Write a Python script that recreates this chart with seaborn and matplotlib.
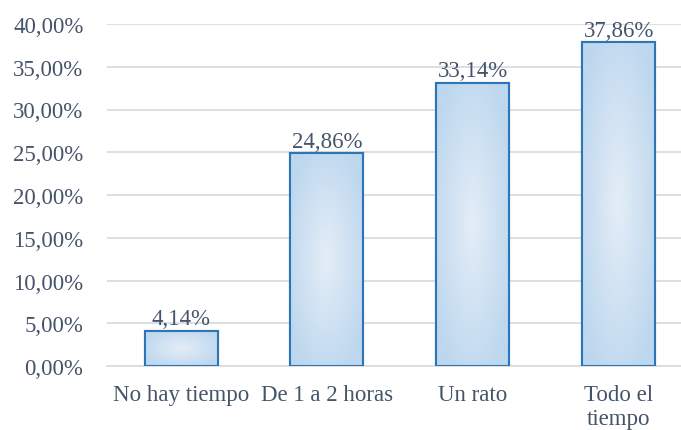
import numpy as np
import pandas as pd
import matplotlib
matplotlib.use("Agg")
import matplotlib.pyplot as plt
import seaborn as sns
from matplotlib.colors import LinearSegmentedColormap

categories = ["No hay tiempo", "De 1 a 2 horas", "Un rato", "Todo el\ntiempo"]
values = [4.14, 24.86, 33.14, 37.86]
yticks = [0, 5, 10, 15, 20, 25, 30, 35, 40]

sns.set_theme(style="white")
plt.rcParams["font.family"] = ["Liberation Serif", "DejaVu Serif"]

text_color = "#44546a"
grid_color = "#d9dde3"
edge_color = "#2e75b6"
fs = 16.5

df = pd.DataFrame({"cat": categories, "val": values})

fig = plt.figure(figsize=(6.81, 4.31), dpi=100)
ax = fig.add_axes([107 / 681, (431 - 367) / 431, 1 - 107 / 681, (367 - 25) / 431])

sns.barplot(data=df, x="cat", y="val", ax=ax, width=0.5, color="#bdd7ee",
            edgecolor=edge_color, linewidth=1.5, zorder=3)

# radial gradient fill inside each bar
cmap = LinearSegmentedColormap.from_list("bar", ["#e4edf7", "#bdd7ee"])
gy, gx = np.mgrid[-1:1:200j, -1:1:200j]
grad = np.clip(np.sqrt(gx ** 2 + gy ** 2) / 1.2, 0, 1)
for p in ax.patches:
    x0, y0 = p.get_x(), p.get_y()
    w, h = p.get_width(), p.get_height()
    im = ax.imshow(grad, cmap=cmap, extent=[x0, x0 + w, y0, y0 + h],
                   aspect="auto", zorder=3.5, interpolation="bilinear")
    im.set_clip_path(p)
    frame = plt.Rectangle((x0, y0), w, h, fill=False, edgecolor=edge_color,
                          linewidth=1.5, zorder=4)
    ax.add_patch(frame)

for i, v in enumerate(values):
    ax.annotate(f"{v:.2f}%".replace(".", ","), (i, v), xytext=(0, 1),
                textcoords="offset points", ha="center", va="bottom",
                fontsize=fs, color=text_color, zorder=5)

ax.set_ylim(0, 40)
ax.set_xlim(-0.507, 3.425)
ax.set_yticks(yticks)
ax.set_yticklabels([f"{t:.2f}%".replace(".", ",") for t in yticks])
ax.set_xlabel("")
ax.set_ylabel("")
ax.yaxis.grid(True, color=grid_color, linewidth=1.3, zorder=0)
ax.set_axisbelow(True)
for s in ["top", "right", "left"]:
    ax.spines[s].set_visible(False)
ax.spines["bottom"].set_color(grid_color)
ax.spines["bottom"].set_linewidth(1.3)
ax.tick_params(axis="y", length=0, pad=17, labelsize=fs, labelcolor=text_color)
ax.tick_params(axis="x", length=0, pad=13, labelsize=fs, labelcolor=text_color)
for lbl in ax.get_xticklabels():
    lbl.set_linespacing(1.2)

fig.savefig("out.png", dpi=100)
